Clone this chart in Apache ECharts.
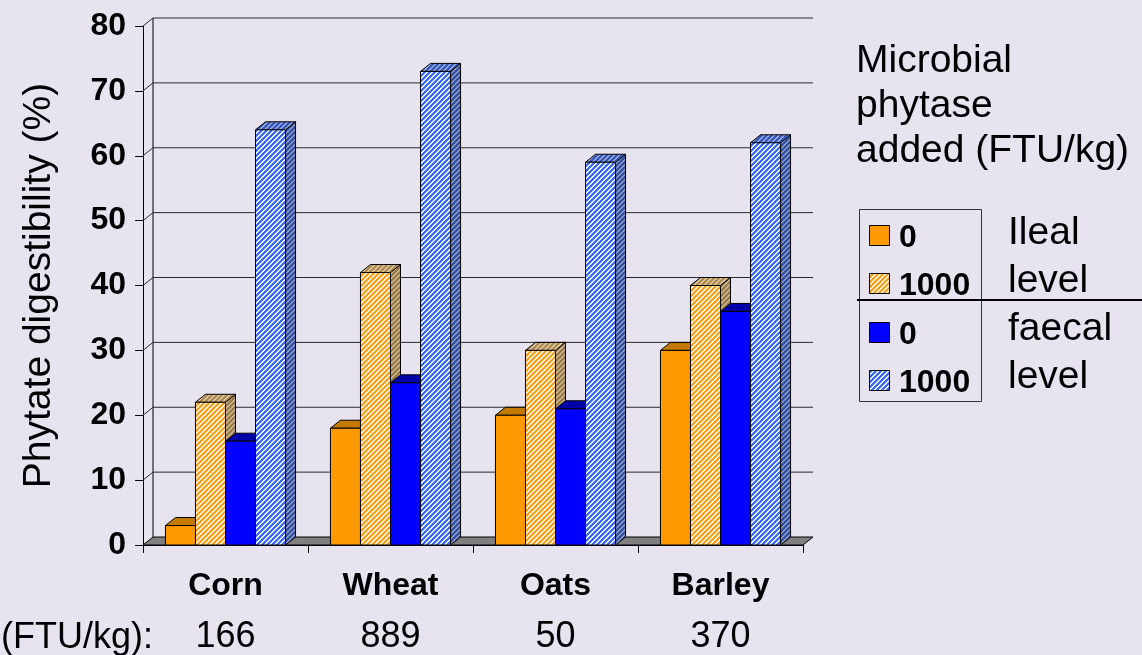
<!DOCTYPE html>
<html>
<head>
<meta charset="utf-8">
<title>Phytate digestibility</title>
<script src="https://cdn.jsdelivr.net/npm/echarts@6/dist/echarts.min.js"></script>
<style>
  html, body { margin: 0; padding: 0; background: #E8E4EF; }
  #chart { width: 1142px; height: 655px; }
</style>
</head>
<body>
<div id="chart"></div>
<script>
// Grains and their intrinsic phytase activity
const grains = ['Corn', 'Wheat', 'Oats', 'Barley'];
const intrinsicPhytase = ['166', '889', '50', '370'];

// Phytate digestibility (%) by site and microbial phytase dose
const ilealNoPhytase   = [3, 18, 20, 30];
const ilealPhytase     = [22, 42, 30, 40];
const faecalNoPhytase  = [16, 25, 21, 36];
const faecalPhytase    = [64, 73, 59, 62];

const yTicks = [0, 10, 20, 30, 40, 50, 60, 70, 80];
const doseLabels = ['0', '1000', '0', '1000'];
const siteLabels = ['Ileal\nlevel', 'faecal\nlevel'];
const legendTitle = 'Microbial\nphytase\nadded (FTU/kg)';
const yAxisTitle = 'Phytate digestibility (%)';
const ftuPrefix = '(FTU/kg):';

const FONT = "'Liberation Sans', Arial, sans-serif";
const DX = 10, DY = -8;          // depth offset of the pseudo-3D boxes
const BAR_FRACTION = 0.182;      // width of one bar relative to a category band

// Diagonal hatch tile ("/" direction)
function hatch(c1, c2, period, on) {
  const cv = document.createElement('canvas');
  cv.width = cv.height = period;
  const ctx = cv.getContext('2d');
  for (let y = 0; y < period; y++) {
    for (let x = 0; x < period; x++) {
      ctx.fillStyle = ((x + y) % period) < on ? c1 : c2;
      ctx.fillRect(x, y, 1, 1);
    }
  }
  return { image: cv, repeat: 'repeat' };
}

const faces = [
  { front: '#FF9900', top: '#C47A00', side: '#B06C00' },
  { front: hatch('#FFA01A', '#FFF7EA', 5, 3), top: hatch('#B08A50', '#D8C8A0', 5, 3), side: hatch('#9C7A48', '#C8B890', 5, 3) },
  { front: '#0000FF', top: '#0000A8', side: '#000090' },
  { front: hatch('#3A6BFF', '#F2F5FF', 5, 3), top: hatch('#3558C8', '#9AA8D0', 5, 3), side: hatch('#3050B0', '#8E98B0', 5, 3) }
];

const seriesValues = [ilealNoPhytase, ilealPhytase, faecalNoPhytase, faecalPhytase];

function barRenderer(si) {
  return function (params, api) {
    const cat = api.value(0), val = api.value(1);
    const base = api.coord([cat, 0]);
    const top = api.coord([cat, val]);
    const band = api.size([1, 0])[0];
    const bw = band * BAR_FRACTION;
    const x0 = base[0] - 2 * bw + si * bw, x1 = x0 + bw;
    const yb = base[1], yt = top[1];
    const f = faces[si];
    const edge = { stroke: '#000', lineWidth: 1 };
    return {
      type: 'group',
      children: [
        { type: 'polygon', shape: { points: [[x1, yt], [x1 + DX, yt + DY], [x1 + DX, yb + DY], [x1, yb]] }, style: Object.assign({ fill: f.side }, edge) },
        { type: 'polygon', shape: { points: [[x0, yt], [x1, yt], [x1 + DX, yt + DY], [x0 + DX, yt + DY]] }, style: Object.assign({ fill: f.top }, edge) },
        { type: 'rect', shape: { x: x0, y: yt, width: bw, height: yb - yt }, style: Object.assign({ fill: f.front }, edge) }
      ]
    };
  };
}

// Floor, side wall and back wall gridlines
function frameRenderer(params, api) {
  const v = api.value(1);
  const cs = params.coordSys;
  const y = api.coord([0, v])[1];
  const left = cs.x, right = cs.x + cs.width;
  const children = [];
  if (v === yTicks[0]) {
    const yTop = api.coord([0, yTicks[yTicks.length - 1]])[1];
    children.push({ type: 'polygon', shape: { points: [[left, y], [right, y], [right + DX, y + DY], [left + DX, y + DY]] }, style: { fill: '#808080', stroke: '#000', lineWidth: 1 } });
    children.push({ type: 'line', shape: { x1: left + DX, y1: y + DY, x2: left + DX, y2: yTop + DY }, style: { stroke: '#000', lineWidth: 1 } });
  } else {
    children.push({ type: 'polyline', shape: { points: [[left, y], [left + DX, y + DY], [right + DX, y + DY]] }, style: { stroke: '#2a2a2a', lineWidth: 1, fill: null } });
  }
  return { type: 'group', children: children };
}

const series = [{
  type: 'custom',
  name: 'frame',
  renderItem: frameRenderer,
  data: yTicks.map(v => [0, v]),
  clip: false,
  silent: true,
  z: 1
}].concat(seriesValues.map((vals, si) => ({
  type: 'custom',
  name: 'bars' + si,
  renderItem: barRenderer(si),
  data: vals.map((v, i) => [i, v]),
  clip: false,
  z: 2
})));

// Legend block on the right
const graphics = [];
graphics.push({
  type: 'text', x: 856, y: 39,
  style: { text: legendTitle, fill: '#000', fontSize: 39, fontFamily: FONT, lineHeight: 45, align: 'left', verticalAlign: 'top' }
});
graphics.push({
  type: 'rect', shape: { x: 859.5, y: 209.5, width: 122, height: 192 },
  style: { fill: null, stroke: '#333', lineWidth: 1 }
});
const entryY = [236, 284, 333, 381];
doseLabels.forEach((lab, i) => {
  graphics.push({
    type: 'rect', shape: { x: 869.5, y: entryY[i] - 10.5, width: 20, height: 20 },
    style: { fill: faces[i].front, stroke: '#000', lineWidth: 1 }
  });
  graphics.push({
    type: 'text', x: 899, y: entryY[i] + 2,
    style: { text: lab, fill: '#000', fontSize: 32, fontWeight: 'bold', fontFamily: FONT, align: 'left', verticalAlign: 'middle' }
  });
});
siteLabels.forEach((lab, i) => {
  graphics.push({
    type: 'text', x: 1008, y: (i === 0 ? 209 : 305),
    style: { text: lab, fill: '#000', fontSize: 39, fontFamily: FONT, lineHeight: 48, align: 'left', verticalAlign: 'top' }
  });
});
graphics.push({
  type: 'line', shape: { x1: 857, y1: 300, x2: 1142, y2: 300 },
  style: { stroke: '#000', lineWidth: 2 }
});
graphics.push({
  type: 'text', x: 1, y: 638,
  style: { text: ftuPrefix, fill: '#000', fontSize: 36, fontFamily: FONT, align: 'left', verticalAlign: 'middle' }
});

const chart = echarts.init(document.getElementById('chart'), null, { renderer: 'canvas' });
chart.setOption({
  animation: false,
  backgroundColor: '#E8E4EF',
  grid: { left: 143, right: 339, top: 26, bottom: 108, containLabel: false },
  xAxis: [{
    type: 'category',
    data: grains,
    position: 'bottom',
    axisLine: { show: true, lineStyle: { color: '#000', width: 1 } },
    axisTick: { show: true, length: 8, lineStyle: { color: '#000' } },
    axisLabel: { color: '#000', fontSize: 32, fontWeight: 'bold', fontFamily: FONT, margin: 25 },
    splitLine: { show: false }
  }, {
    type: 'category',
    data: grains,
    position: 'bottom',
    offset: 52,
    axisLine: { show: false },
    axisTick: { show: false },
    axisLabel: { color: '#000', fontSize: 36, fontFamily: FONT, margin: 22, formatter: (v, i) => intrinsicPhytase[i] },
    splitLine: { show: false }
  }],
  yAxis: {
    type: 'value',
    min: yTicks[0], max: yTicks[yTicks.length - 1], interval: 10,
    name: yAxisTitle,
    nameLocation: 'middle',
    nameGap: 84,
    nameTextStyle: { color: '#000', fontSize: 39, fontFamily: FONT },
    axisLine: { show: true, lineStyle: { color: '#000', width: 1 } },
    axisTick: { show: true, length: 8, lineStyle: { color: '#000' } },
    axisLabel: { color: '#000', fontSize: 32, fontWeight: 'bold', fontFamily: FONT, margin: 17 },
    splitLine: { show: false }
  },
  series: series,
  graphic: graphics
});
</script>
</body>
</html>
